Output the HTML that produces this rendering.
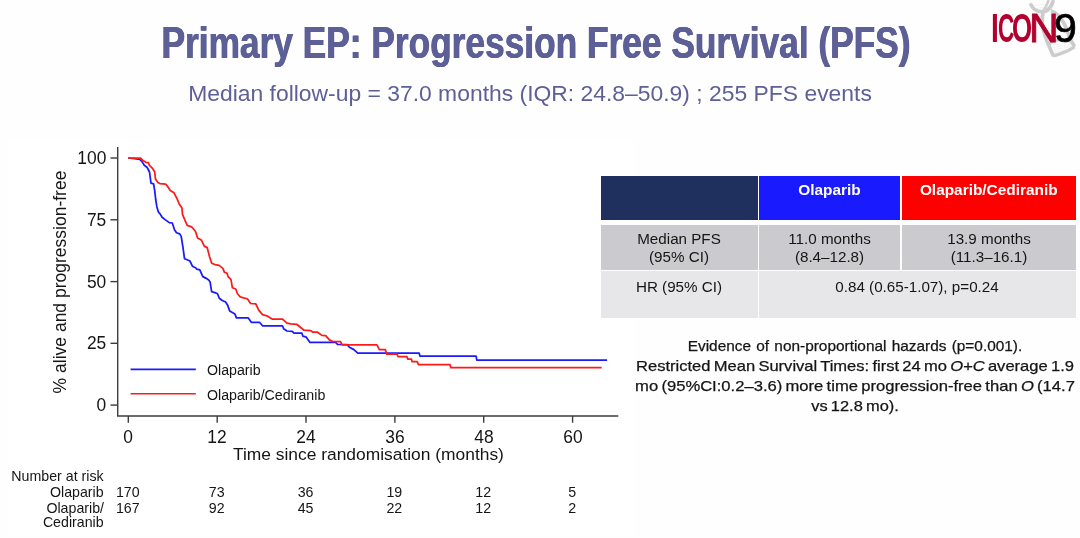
<!DOCTYPE html>
<html><head><meta charset="utf-8"><title>Primary EP: Progression Free Survival (PFS)</title>
<style>
html,body{margin:0;padding:0;background:#fefefe;}
body{width:1080px;height:538px;position:relative;overflow:hidden;font-family:"Liberation Sans",sans-serif;color:#151515;}
.abs{position:absolute;white-space:nowrap;}
.t{position:absolute;white-space:nowrap;line-height:1;}
#ylab{position:absolute;left:60.7px;top:281.7px;width:0;height:0;font-size:17.5px;line-height:1;}
#ylab span{position:absolute;display:block;white-space:nowrap;transform:translate(-50%,-50%) rotate(-90deg);}
</style></head><body>
<div class="abs" style="left:7px;top:142px;width:627px;height:392.5px;background:#fff"></div>
<svg class="abs" style="left:0;top:0" width="1080" height="538" viewBox="0 0 1080 538">
<g stroke="#3c3c3c" stroke-width="1.4" fill="none">
<path d="M117.7,147 L117.7,416 L618.3,416"/>
<line x1="110.5" y1="405.1" x2="117.7" y2="405.1"/><line x1="110.5" y1="343.3" x2="117.7" y2="343.3"/><line x1="110.5" y1="281.6" x2="117.7" y2="281.6"/><line x1="110.5" y1="219.8" x2="117.7" y2="219.8"/><line x1="110.5" y1="158.0" x2="117.7" y2="158.0"/><line x1="128.3" y1="416" x2="128.3" y2="422.8"/><line x1="217.2" y1="416" x2="217.2" y2="422.8"/><line x1="306.0" y1="416" x2="306.0" y2="422.8"/><line x1="394.9" y1="416" x2="394.9" y2="422.8"/><line x1="483.7" y1="416" x2="483.7" y2="422.8"/><line x1="572.6" y1="416" x2="572.6" y2="422.8"/>
</g>
<path d="M128.2,158.0 L134.6,158.6 L139.8,159.3 L142.0,161.6 L144.3,165.3 L147.2,167.5 L149.5,172.0 L151.0,183.1 L153.6,183.9 L154.7,190.6 L155.7,199.5 L156.9,206.9 L158.4,212.1 L159.9,213.6 L162.1,217.3 L165.1,219.6 L169.3,222.6 L172.3,223.0 L174.5,229.7 L176.5,232.7 L179.7,233.9 L181.2,236.4 L183.0,247.6 L184.5,258.7 L187.2,259.8 L189.9,261.0 L192.4,266.2 L195.4,267.7 L196.8,269.1 L199.8,269.9 L202.8,276.6 L205.8,278.1 L208.7,280.0 L210.1,281.9 L211.6,291.6 L214.9,292.6 L217.5,293.8 L219.3,298.3 L222.3,300.5 L225.6,302.0 L227.5,304.9 L229.7,310.9 L234.9,313.9 L236.4,317.9 L248.3,317.9 L251.3,322.3 L259.5,322.3 L262.5,325.8 L282.5,325.8 L283.6,328.7 L287.0,331.0 L292.2,331.3 L294.0,333.2 L301.9,333.2 L302.9,336.2 L306.3,337.2 L310.0,342.4 L335.6,342.4 L337.5,344.3 L347.2,344.6 L349.4,347.3 L353.9,349.6 L357.8,353.1 L419.1,353.1 L419.9,356.1 L476.1,356.1 L476.8,360.1 L500.0,360.1 L607.1,360.1" fill="none" stroke="#1a1aff" stroke-width="1.75" stroke-linejoin="round"/>
<path d="M128.2,158.0 L140.6,158.0 L142.3,160.1 L145.8,162.3 L148.3,162.6 L149.5,165.3 L152.5,168.3 L154.7,172.0 L155.4,178.7 L157.7,182.4 L159.9,183.6 L165.8,184.2 L167.3,186.1 L170.3,190.6 L174.0,192.8 L177.0,198.7 L179.2,203.9 L181.9,207.7 L182.5,214.3 L184.4,218.8 L184.9,220.1 L187.2,225.3 L191.6,226.8 L195.4,231.2 L197.6,237.9 L201.3,239.9 L204.3,246.1 L207.2,247.6 L209.5,256.5 L211.7,263.2 L215.4,264.7 L219.1,265.4 L222.9,268.4 L224.3,272.1 L227.0,273.2 L228.1,276.6 L231.0,279.6 L232.4,287.8 L235.7,289.0 L237.5,293.8 L240.1,296.8 L247.6,299.0 L250.6,303.5 L255.8,303.9 L258.7,310.1 L262.5,314.6 L266.9,315.8 L272.1,319.1 L282.5,319.1 L287.0,323.2 L290.7,323.8 L296.7,324.3 L304.1,330.2 L310.8,330.7 L313.0,332.2 L317.5,332.2 L321.9,335.4 L325.7,335.7 L329.4,339.9 L332.3,341.4 L340.5,341.7 L342.0,344.8 L360.0,344.8 L376.9,344.8 L379.4,349.7 L385.4,349.7 L386.8,354.2 L397.2,354.2 L398.0,356.5 L406.9,356.5 L407.7,359.1 L411.4,359.1 L412.1,361.7 L417.3,361.7 L418.5,364.7 L450.0,364.7 L450.8,367.7 L500.0,367.7 L601.6,367.7" fill="none" stroke="#ff1a1a" stroke-width="1.75" stroke-linejoin="round"/>
<line x1="130.6" y1="369.4" x2="195.8" y2="369.4" stroke="#1a1aff" stroke-width="1.6"/>
<line x1="130.6" y1="393.8" x2="195.8" y2="393.8" stroke="#ff1a1a" stroke-width="1.6"/>
</svg>
<div id="ylab"><span>% alive and progression-free</span></div>

<!-- table -->
<div class="abs" style="left:600.5px;top:175.8px;width:157px;height:44px;background:#1f2f5e"></div>
<div class="abs" style="left:758.7px;top:175.8px;width:141.8px;height:44px;background:#1a1aff"></div>
<div class="abs" style="left:901.7px;top:175.8px;width:174.1px;height:44px;background:#ff0000"></div>
<div class="abs" style="left:600.5px;top:225px;width:157px;height:44.6px;background:#cbcbcf"></div>
<div class="abs" style="left:758.7px;top:225px;width:141.8px;height:44.6px;background:#cbcbcf"></div>
<div class="abs" style="left:901.7px;top:225px;width:174.1px;height:44.6px;background:#cbcbcf"></div>
<div class="abs" style="left:600.5px;top:271.2px;width:157px;height:46.4px;background:#e7e7e9"></div>
<div class="abs" style="left:758.7px;top:271.2px;width:317.1px;height:46.4px;background:#e7e7e9"></div>
<div id="title" class="t" style="left:535.80px;transform:translateX(-50%) scaleX(0.8064);transform-origin:center center;top:21.07px;font-size:43.75px;font-weight:bold;color:#5d5f97;text-shadow:0.5px 0 0 #5d5f97,-0.5px 0 0 #5d5f97;">Primary EP: Progression Free Survival (PFS)</div>
<div id="sub" class="t" style="left:530.30px;transform:translateX(-50%) scaleX(1.0597);transform-origin:center center;top:83.12px;font-size:21.6px;color:#5d5f97;">Median follow-up = 37.0 months (IQR: 24.8–50.9) ; 255 PFS events</div>
<div id="y0" class="t" style="right:973.40px;transform-origin:right center;transform:scaleX(0.9560);top:396.14px;font-size:18.2px;">0</div>
<div id="y25" class="t" style="right:973.40px;transform-origin:right center;transform:scaleX(0.9560);top:334.37px;font-size:18.2px;">25</div>
<div id="y50" class="t" style="right:973.40px;transform-origin:right center;transform:scaleX(0.9560);top:272.59px;font-size:18.2px;">50</div>
<div id="y75" class="t" style="right:973.40px;transform-origin:right center;transform:scaleX(0.9560);top:210.82px;font-size:18.2px;">75</div>
<div id="y100" class="t" style="right:973.40px;transform-origin:right center;transform:scaleX(0.9560);top:149.04px;font-size:18.2px;">100</div>
<div id="x0" class="t" style="left:128.30px;transform:translateX(-50%) scaleX(0.9560);transform-origin:center center;top:427.99px;font-size:18.2px;">0</div>
<div id="x12" class="t" style="left:217.16px;transform:translateX(-50%) scaleX(0.9560);transform-origin:center center;top:427.99px;font-size:18.2px;">12</div>
<div id="x24" class="t" style="left:306.02px;transform:translateX(-50%) scaleX(0.9560);transform-origin:center center;top:427.99px;font-size:18.2px;">24</div>
<div id="x36" class="t" style="left:394.88px;transform:translateX(-50%) scaleX(0.9560);transform-origin:center center;top:427.99px;font-size:18.2px;">36</div>
<div id="x48" class="t" style="left:483.74px;transform:translateX(-50%) scaleX(0.9560);transform-origin:center center;top:427.99px;font-size:18.2px;">48</div>
<div id="x60" class="t" style="left:572.60px;transform:translateX(-50%) scaleX(0.9560);transform-origin:center center;top:427.99px;font-size:18.2px;">60</div>
<div id="xlab" class="t" style="left:368.45px;transform:translateX(-50%) scaleX(1.0000);transform-origin:center center;top:446.17px;font-size:17.4px;">Time since randomisation (months)</div>
<div id="lg1" class="t" style="left:206.50px;transform-origin:left center;transform:scaleX(0.9400);top:362.02px;font-size:15.1px;">Olaparib</div>
<div id="lg2" class="t" style="left:206.50px;transform-origin:left center;transform:scaleX(0.9400);top:386.62px;font-size:15.1px;">Olaparib/Cediranib</div>
<div id="r0" class="t" style="right:976.40px;transform-origin:right center;transform:scaleX(1.0000);top:468.78px;font-size:14.2px;">Number at risk</div>
<div id="r1" class="t" style="right:976.40px;transform-origin:right center;transform:scaleX(1.0000);top:484.78px;font-size:14.2px;">Olaparib</div>
<div id="r2" class="t" style="right:976.00px;transform-origin:right center;transform:scaleX(1.0000);top:501.08px;font-size:14.2px;">Olaparib/</div>
<div id="r3" class="t" style="right:976.40px;transform-origin:right center;transform:scaleX(1.0000);top:515.38px;font-size:14.2px;">Cediranib</div>
<div id="ra0" class="t" style="left:127.80px;transform:translateX(-50%) scaleX(1.0000);transform-origin:center center;top:484.78px;font-size:14.2px;">170</div>
<div id="rb0" class="t" style="left:127.80px;transform:translateX(-50%) scaleX(1.0000);transform-origin:center center;top:501.08px;font-size:14.2px;">167</div>
<div id="ra12" class="t" style="left:216.66px;transform:translateX(-50%) scaleX(1.0000);transform-origin:center center;top:484.78px;font-size:14.2px;">73</div>
<div id="rb12" class="t" style="left:216.66px;transform:translateX(-50%) scaleX(1.0000);transform-origin:center center;top:501.08px;font-size:14.2px;">92</div>
<div id="ra24" class="t" style="left:305.52px;transform:translateX(-50%) scaleX(1.0000);transform-origin:center center;top:484.78px;font-size:14.2px;">36</div>
<div id="rb24" class="t" style="left:305.52px;transform:translateX(-50%) scaleX(1.0000);transform-origin:center center;top:501.08px;font-size:14.2px;">45</div>
<div id="ra36" class="t" style="left:394.38px;transform:translateX(-50%) scaleX(1.0000);transform-origin:center center;top:484.78px;font-size:14.2px;">19</div>
<div id="rb36" class="t" style="left:394.38px;transform:translateX(-50%) scaleX(1.0000);transform-origin:center center;top:501.08px;font-size:14.2px;">22</div>
<div id="ra48" class="t" style="left:483.24px;transform:translateX(-50%) scaleX(1.0000);transform-origin:center center;top:484.78px;font-size:14.2px;">12</div>
<div id="rb48" class="t" style="left:483.24px;transform:translateX(-50%) scaleX(1.0000);transform-origin:center center;top:501.08px;font-size:14.2px;">12</div>
<div id="ra60" class="t" style="left:572.10px;transform:translateX(-50%) scaleX(1.0000);transform-origin:center center;top:484.78px;font-size:14.2px;">5</div>
<div id="rb60" class="t" style="left:572.10px;transform:translateX(-50%) scaleX(1.0000);transform-origin:center center;top:501.08px;font-size:14.2px;">2</div>
<div id="h1" class="t" style="left:829.50px;transform:translateX(-50%) scaleX(1.0000);transform-origin:center center;top:182.46px;font-size:15.4px;font-weight:bold;color:#fff;">Olaparib</div>
<div id="h2" class="t" style="left:988.75px;transform:translateX(-50%) scaleX(1.0000);transform-origin:center center;top:182.46px;font-size:15.4px;font-weight:bold;color:#fff;">Olaparib/Cediranib</div>
<div id="c11" class="t" style="left:679.00px;transform:translateX(-50%) scaleX(1.0000);transform-origin:center center;top:230.63px;font-size:15.2px;">Median PFS</div>
<div id="c12" class="t" style="left:679.00px;transform:translateX(-50%) scaleX(1.0000);transform-origin:center center;top:249.03px;font-size:15.2px;">(95% CI)</div>
<div id="c21" class="t" style="left:829.50px;transform:translateX(-50%) scaleX(1.0000);transform-origin:center center;top:230.63px;font-size:15.2px;">11.0 months</div>
<div id="c22" class="t" style="left:829.50px;transform:translateX(-50%) scaleX(1.0000);transform-origin:center center;top:249.03px;font-size:15.2px;">(8.4–12.8)</div>
<div id="c31" class="t" style="left:989.00px;transform:translateX(-50%) scaleX(1.0000);transform-origin:center center;top:230.63px;font-size:15.2px;">13.9 months</div>
<div id="c32" class="t" style="left:989.00px;transform:translateX(-50%) scaleX(1.0000);transform-origin:center center;top:249.03px;font-size:15.2px;">(11.3–16.1)</div>
<div id="c41" class="t" style="left:679.00px;transform:translateX(-50%) scaleX(1.0000);transform-origin:center center;top:278.73px;font-size:15.2px;">HR (95% CI)</div>
<div id="c51" class="t" style="left:917.00px;transform:translateX(-50%) scaleX(1.0000);transform-origin:center center;top:278.73px;font-size:15.2px;">0.84 (0.65-1.07), p=0.24</div>
<div id="p1" class="t" style="left:855.10px;transform:translateX(-50%) scaleX(1.0405);transform-origin:center center;top:339.07px;font-size:14.8px;word-spacing:0.9px;-webkit-text-stroke:0.25px #151515;">Evidence of non-proportional hazards (p=0.001).</div>
<div id="p2" class="t" style="left:855.30px;transform:translateX(-50%) scaleX(1.1177);transform-origin:center center;top:359.07px;font-size:14.8px;word-spacing:-1.2px;-webkit-text-stroke:0.25px #151515;">Restricted Mean Survival Times: first 24 mo <i>O+C</i> average 1.9</div>
<div id="p3" class="t" style="left:854.80px;transform:translateX(-50%) scaleX(1.1217);transform-origin:center center;top:379.27px;font-size:14.8px;word-spacing:-1.2px;-webkit-text-stroke:0.25px #151515;">mo (95%CI:0.2–3.6) more time progression-free than <i>O</i> (14.7</div>
<div id="p4" class="t" style="left:854.60px;transform:translateX(-50%) scaleX(1.1083);transform-origin:center center;top:399.47px;font-size:14.8px;word-spacing:-1.2px;-webkit-text-stroke:0.25px #151515;">vs 12.8 mo).</div>

<!-- logo -->
<svg class="abs" style="left:1024px;top:0" width="56" height="58" viewBox="0 0 519 538">
<g fill="none" stroke="#cccccc" stroke-linecap="butt" stroke-linejoin="round">
<path stroke-width="34" d="M58,32 C75,75 115,108 165,110 C215,108 255,70 272,0"/>
<path stroke-width="24" d="M228,0 C220,35 200,65 182,95"/>
<path stroke-width="34" d="M176,115 C165,170 168,240 185,300 C198,350 215,395 238,440 C250,470 262,500 275,522"/>
<path stroke-width="34" d="M250,100 C300,115 345,165 378,230 C400,280 410,330 440,385 C452,405 462,420 470,432"/>
<path stroke-width="30" d="M228,412 C270,372 370,345 440,385"/>
<path stroke-width="30" d="M272,518 C340,500 420,468 470,432"/>
</g>
<g stroke="#e2e2e2" stroke-width="4" fill="none">
<path d="M95,55 L235,30 M115,78 L225,58 M140,95 L205,85"/>
<path d="M265,420 L420,395 M270,440 L440,412 M275,460 L445,432 M280,482 L415,460"/>
</g>
</svg>
<div class="t" style="left:990.61px;top:8.44px;font-size:41.3px;font-weight:bold;color:#b3002d;transform-origin:left center;transform:scaleX(0.681);">I</div>
<div class="t" style="left:997.59px;top:8.44px;font-size:41.3px;font-weight:bold;color:#b3002d;transform-origin:left center;transform:scaleX(0.550);">C</div>
<div class="t" style="left:1012.27px;top:8.44px;font-size:41.3px;font-weight:bold;color:#b3002d;transform-origin:left center;transform:scaleX(0.626);">O</div>
<div class="t" style="left:1029.22px;top:8.44px;font-size:41.3px;font-weight:normal;color:#b3002d;transform-origin:left center;transform:scaleX(0.994);-webkit-text-stroke:0.9px #b3002d;">N</div>
<div class="t" style="left:1054.46px;top:8.44px;font-size:41.3px;font-weight:normal;color:#000;transform-origin:left center;transform:scaleX(0.994);-webkit-text-stroke:0.7px #000;">9</div>
</body></html>
